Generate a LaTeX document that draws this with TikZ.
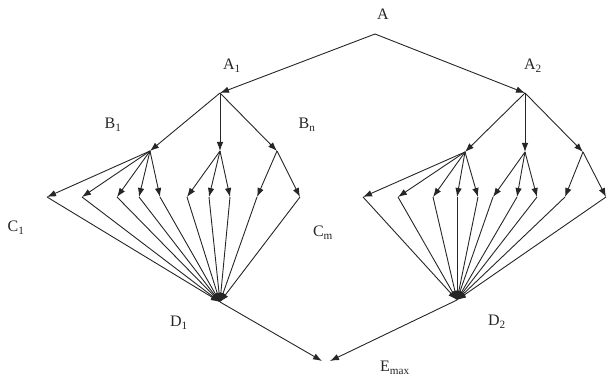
\documentclass[tikz,border=0pt]{standalone}
\usepackage{fontspec}
\setmainfont{Liberation Serif}
\usetikzlibrary{arrows.meta}
\begin{document}
\begin{tikzpicture}[x=1pt,y=-1pt,
  edge/.style={draw=black!85,line width=0.9pt,-{Latex[length=9pt,width=6.5pt]}},
  lbl/.style={font=\fontsize{16}{18}\selectfont,text=black!85,inner sep=0pt}]
\useasboundingbox (0,0) rectangle (608,379);
% points
\coordinate (A) at (375,34);
\coordinate (A1) at (220,93);
\coordinate (A2) at (525,93);
\coordinate (L1) at (150,151);
\coordinate (L2) at (220,151);
\coordinate (L3) at (277,151);
\coordinate (R1) at (465,152);
\coordinate (R2) at (525,152);
\coordinate (R3) at (583,152);
\coordinate (D1) at (220,302);
\coordinate (D2) at (457,300);
\coordinate (E1) at (322,361);
\coordinate (E2) at (330,361);
\foreach \n/\x in {1/47,2/82,3/117,4/139,5/160,6/187,7/209,8/230,9/257,10/300}
  \coordinate (lc\n) at (\x,197);
\foreach \n/\x in {1/363,2/398,3/433,4/457,5/478,6/493,7/517,8/537,9/565,10/606}
  \coordinate (rc\n) at (\x,197);
% labels
\node[lbl] (tA) at (383,14) {A};
\node[lbl] (tA1) at (232,66) {A\textsubscript{1}};
\node[lbl] (tA2) at (533,66) {A\textsubscript{2}};
\node[lbl] (tB1) at (113,125) {B\textsubscript{1}};
\node[lbl] (tBn) at (307,125) {B\textsubscript{n}};
\node[lbl] (tC1) at (16,228) {C\textsubscript{1}};
\node[lbl] (tCm) at (323,233) {C\textsubscript{m}};
\node[lbl] (tD1) at (179,323) {D\textsubscript{1}};
\node[lbl] (tD2) at (497,322) {D\textsubscript{2}};
\node[lbl] (tE) at (395,368) {E\textsubscript{max}};
% edges
\draw[edge] (A) -- (A1);
\draw[edge] (A) -- (A2);
\foreach \b in {L1,L2,L3} \draw[edge] (A1) -- (\b);
\foreach \b in {R1,R2,R3} \draw[edge] (A2) -- (\b);
\foreach \n in {1,...,5} \draw[edge] (L1) -- (lc\n);
\foreach \n in {6,7,8} \draw[edge] (L2) -- (lc\n);
\foreach \n in {9,10} \draw[edge] (L3) -- (lc\n);
\foreach \n in {1,...,5} \draw[edge] (R1) -- (rc\n);
\foreach \n in {6,7,8} \draw[edge] (R2) -- (rc\n);
\foreach \n in {9,10} \draw[edge] (R3) -- (rc\n);
\foreach \n in {1,...,10} \draw[edge] (lc\n) -- (D1);
\foreach \n in {1,...,10} \draw[edge] (rc\n) -- (D2);
\draw[edge] (D1) -- (E1);
\draw[edge] (D2) -- (E2);
\end{tikzpicture}
\end{document}
